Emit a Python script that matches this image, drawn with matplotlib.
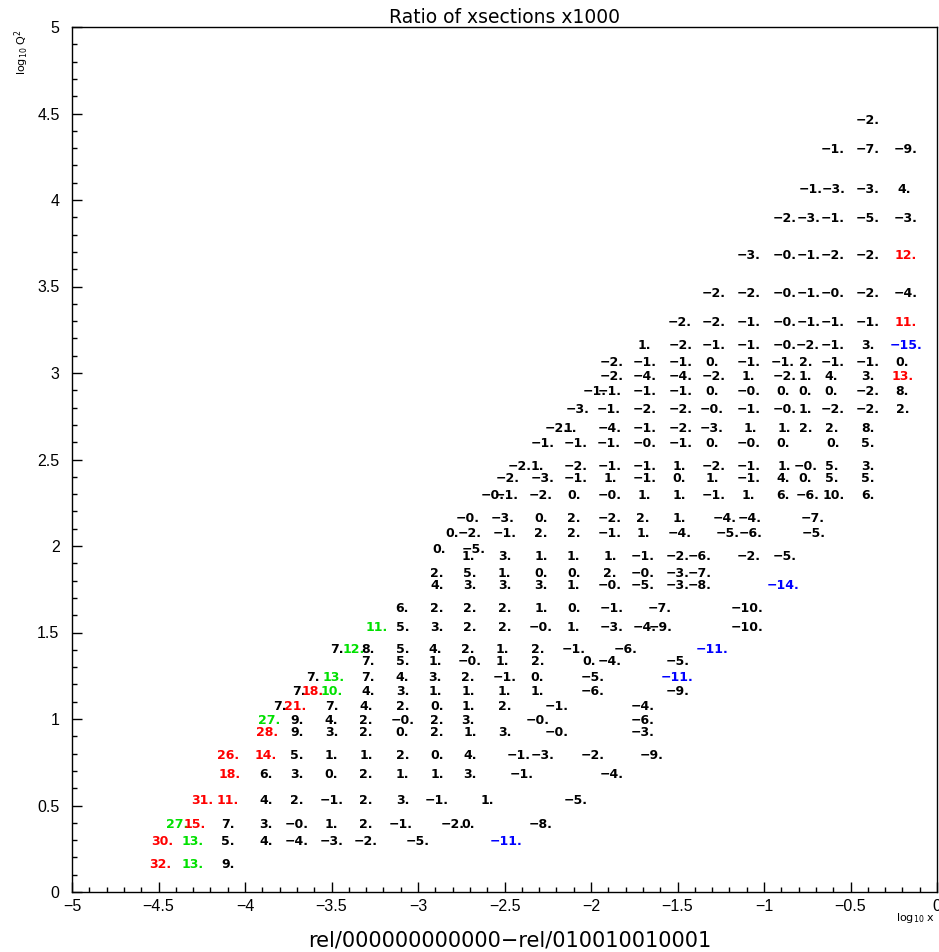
import matplotlib
matplotlib.use("Agg")
import matplotlib.pyplot as plt
from matplotlib.ticker import MultipleLocator

# log10(Q^2) of each row of numbers, top to bottom
q2_rows = [4.47, 4.30, 4.07, 3.90, 3.69, 3.47, 3.30, 3.17, 3.07, 2.99,
           2.90, 2.80, 2.69, 2.60, 2.47, 2.40, 2.30, 2.17, 2.08, 1.99,
           1.95, 1.85, 1.78, 1.65, 1.54, 1.41, 1.34, 1.25, 1.17, 1.08,
           1.00, 0.93, 0.80, 0.69, 0.54, 0.40, 0.30, 0.17]

# log10(x) of every cell in each row
x_rows = [
    [-0.40],
    [-0.60, -0.40, -0.18],
    [-0.73, -0.60, -0.40, -0.19],
    [-0.88, -0.74, -0.60, -0.40, -0.18],
    [-1.09, -0.88, -0.74, -0.60, -0.40, -0.18],
    [-1.29, -1.09, -0.88, -0.74, -0.60, -0.40, -0.18],
    [-1.49, -1.29, -1.09, -0.88, -0.74, -0.60, -0.40, -0.18],
    [-1.69, -1.48, -1.29, -1.09, -0.88, -0.75, -0.60, -0.40, -0.18],
    [-1.88, -1.69, -1.48, -1.30, -1.09, -0.89, -0.76, -0.60, -0.40, -0.20],
    [-1.88, -1.69, -1.48, -1.29, -1.09, -0.88, -0.76, -0.61, -0.40, -0.20],
    [-1.98, -1.89, -1.69, -1.48, -1.30, -1.09, -0.89, -0.76, -0.61, -0.40, -0.20],
    [-2.08, -1.90, -1.69, -1.48, -1.30, -1.09, -0.88, -0.76, -0.60, -0.40, -0.20],
    [-2.20, -2.12, -1.89, -1.69, -1.48, -1.30, -1.08, -0.88, -0.76, -0.61, -0.40],
    [-2.28, -2.09, -1.90, -1.69, -1.48, -1.30, -1.09, -0.89, -0.60, -0.40],
    [-2.41, -2.31, -2.09, -1.89, -1.69, -1.49, -1.29, -1.09, -0.88, -0.76, -0.61, -0.40],
    [-2.48, -2.28, -2.09, -1.89, -1.69, -1.49, -1.30, -1.09, -0.89, -0.76, -0.61, -0.40],
    [-2.57, -2.49, -2.29, -2.10, -1.89, -1.69, -1.49, -1.29, -1.09, -0.89, -0.75, -0.60, -0.40],
    [-2.71, -2.51, -2.29, -2.10, -1.89, -1.70, -1.49, -1.23, -1.08, -0.72],
    [-2.80, -2.70, -2.50, -2.29, -2.10, -1.89, -1.70, -1.49, -1.21, -1.08, -0.71],
    [-2.88, -2.68],
    [-2.71, -2.50, -2.29, -2.10, -1.89, -1.70, -1.50, -1.37, -1.09, -0.88],
    [-2.89, -2.70, -2.50, -2.29, -2.10, -1.89, -1.70, -1.50, -1.37],
    [-2.89, -2.70, -2.50, -2.29, -2.10, -1.89, -1.70, -1.50, -1.37, -0.89],
    [-3.09, -2.89, -2.70, -2.50, -2.29, -2.10, -1.88, -1.60, -1.10],
    [-3.24, -3.09, -2.89, -2.70, -2.50, -2.29, -2.10, -1.88, -1.69, -1.60, -1.10],
    [-3.47, -3.37, -3.29, -3.09, -2.90, -2.71, -2.51, -2.31, -2.10, -1.80, -1.30],
    [-3.29, -3.09, -2.90, -2.70, -2.51, -2.31, -2.01, -1.89, -1.50],
    [-3.61, -3.49, -3.29, -3.09, -2.90, -2.71, -2.50, -2.31, -1.99, -1.50],
    [-3.69, -3.61, -3.50, -3.29, -3.09, -2.90, -2.71, -2.50, -2.31, -1.99, -1.50],
    [-3.80, -3.71, -3.50, -3.30, -3.09, -2.89, -2.71, -2.50, -2.20, -1.70],
    [-3.86, -3.70, -3.50, -3.30, -3.09, -2.89, -2.71, -2.31, -1.70],
    [-3.87, -3.70, -3.50, -3.30, -3.09, -2.89, -2.70, -2.50, -2.20, -1.70],
    [-4.10, -3.88, -3.70, -3.50, -3.30, -3.09, -2.89, -2.70, -2.42, -2.28, -1.99, -1.65],
    [-4.09, -3.88, -3.70, -3.50, -3.30, -3.09, -2.89, -2.70, -2.40, -1.88],
    [-4.25, -4.10, -3.88, -3.70, -3.50, -3.30, -3.09, -2.89, -2.60, -2.09],
    [-4.39, -4.29, -4.10, -3.88, -3.70, -3.50, -3.30, -3.10, -2.80, -2.71, -2.29],
    [-4.48, -4.30, -4.10, -3.88, -3.70, -3.50, -3.30, -3.00, -2.49],
    [-4.49, -4.30, -4.10],
]

# ratio x1000 printed in each cell (-0.0 is printed as "-0.")
ratio_rows = [
    [-2],
    [-1, -7, -9],
    [-1, -3, -3, 4],
    [-2, -3, -1, -5, -3],
    [-3, -0.0, -1, -2, -2, 12],
    [-2, -2, -0.0, -1, -0.0, -2, -4],
    [-2, -2, -1, -0.0, -1, -1, -1, 11],
    [1, -2, -1, -1, -0.0, -2, -1, 3, -15],
    [-2, -1, -1, 0, -1, -1, 2, -1, -1, 0],
    [-2, -4, -4, -2, 1, -2, 1, 4, 3, 13],
    [-1, -1, -1, -1, 0, -0.0, 0, 0, 0, -2, 8],
    [-3, -1, -2, -2, -0.0, -1, -0.0, 1, -2, -2, 2],
    [-2, 1, -4, -1, -2, -3, 1, 1, 2, 2, 8],
    [-1, -1, -1, -0.0, -1, 0, -0.0, 0, 0, 5],
    [-2, 1, -2, -1, -1, 1, -2, -1, 1, -0.0, 5, 3],
    [-2, -3, -1, 1, -1, 0, 1, -1, 4, 0, 5, 5],
    [-0.0, -1, -2, 0, -0.0, 1, 1, -1, 1, 6, -6, 10, 6],
    [-0.0, -3, 0, 2, -2, 2, 1, -4, -4, -7],
    [0, -2, -1, 2, 2, -1, 1, -4, -5, -6, -5],
    [0, -5],
    [1, 3, 1, 1, 1, -1, -2, -6, -2, -5],
    [2, 5, 1, 0, 0, 2, -0.0, -3, -7],
    [4, 3, 3, 3, 1, -0.0, -5, -3, -8, -14],
    [6, 2, 2, 2, 1, 0, -1, -7, -10],
    [11, 5, 3, 2, 2, -0.0, 1, -3, -4, -9, -10],
    [7, 12, 8, 5, 4, 2, 1, 2, -1, -6, -11],
    [7, 5, 1, -0.0, 1, 2, 0, -4, -5],
    [7, 13, 7, 4, 3, 2, -1, 0, -5, -11],
    [7, 18, 10, 4, 3, 1, 1, 1, 1, -6, -9],
    [7, 21, 7, 4, 2, 0, 1, 2, -1, -4],
    [27, 9, 4, 2, -0.0, 2, 3, -0.0, -6],
    [28, 9, 3, 2, 0, 2, 1, 3, -0.0, -3],
    [26, 14, 5, 1, 1, 2, 0, 4, -1, -3, -2, -9],
    [18, 6, 3, 0, 2, 1, 1, 3, -1, -4],
    [31, 11, 4, 2, -1, 2, 3, -1, 1, -5],
    [27, 15, 7, 3, -0.0, 1, 2, -1, -2, 0, -8],
    [30, 13, 5, 4, -4, -3, -2, -5, -11],
    [32, 13, 9],
]

# cells (log10 Q^2, log10 x) that are drawn in green
green_cells = [(1.54, -3.24), (1.41, -3.37), (1.25, -3.49), (1.17, -3.50),
               (1.00, -3.86), (0.40, -4.39), (0.30, -4.30), (0.17, -4.30)]


def cell_color(q2, lx, val):
    """green flag first, then red/blue for big ratios"""
    if (q2, lx) in green_cells:
        return "#00e000"
    if val > 10:
        return "#ff0000"
    if val < -10:
        return "#0000ff"
    return "black"


fig = plt.figure(figsize=(9.39, 9.52), dpi=100)
ax = fig.add_axes([72 / 939, 60 / 952, 865 / 939, 865 / 952])
ax.set_xlim(-5, 0)
ax.set_ylim(0, 5)

for q2, xs, vals in zip(q2_rows, x_rows, ratio_rows):
    for lx, val in zip(xs, vals):
        label = f"{val:.0f}.".replace("-", "\u2212")
        ax.text(lx, q2, label, ha="center", va="center_baseline",
                fontsize=9, fontweight="bold", color=cell_color(q2, lx, val))

ax.xaxis.set_major_locator(MultipleLocator(0.5))
ax.xaxis.set_minor_locator(MultipleLocator(0.1))
ax.yaxis.set_major_locator(MultipleLocator(0.5))
ax.yaxis.set_minor_locator(MultipleLocator(0.1))
ax.xaxis.set_major_formatter(lambda v, p: f"{v:g}".replace("-", "\u2212"))
ax.yaxis.set_major_formatter(lambda v, p: f"{v:g}")
ax.tick_params(which="both", direction="in", top=False, right=False,
               labelsize=11.5, width=1)
ax.tick_params(which="major", length=7)
ax.tick_params(which="minor", length=3.5)
ax.tick_params(axis="x", pad=5)
ax.tick_params(axis="y", pad=9)
for lab in ax.get_xticklabels() + ax.get_yticklabels():
    lab.set_family("Liberation Sans")
for sp in ax.spines.values():
    sp.set_linewidth(1)

ax.set_title("Ratio of xsections x1000", fontsize=13.5, pad=3)
fig.text(935 / 939, 1 - 918 / 952, r"log$_{10}$ x", ha="right", va="center",
         fontsize=8)
fig.text(22 / 939, 1 - 52 / 952, r"log$_{10}$ Q$^{2}$", ha="center",
         va="center", rotation=90, fontsize=8)
fig.text(510 / 939, 1 - 940 / 952, "rel/000000000000\u2212rel/010010010001",
         ha="center", va="center", fontsize=15)

fig.savefig("out.png", dpi=100)
